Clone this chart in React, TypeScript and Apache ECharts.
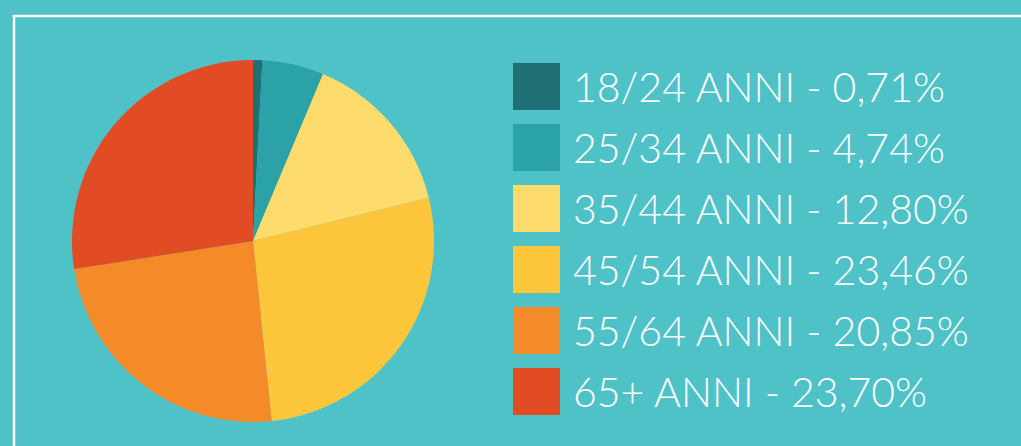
import React, { useEffect, useRef } from "react";
import * as echarts from "echarts";

const categories = ["18/24 ANNI", "25/34 ANNI", "35/44 ANNI", "45/54 ANNI", "55/64 ANNI", "65+ ANNI"];
const values = [0.71, 4.74, 12.8, 23.46, 20.85, 23.7];
const colors = ["#206f75", "#2aa2a7", "#fddb6d", "#fec63a", "#f48a28", "#e14c24"];

const fmt = (v: number) => v.toFixed(2).replace(".", ",") + "%";

export default function App() {
  const ref = useRef<HTMLDivElement>(null);
  useEffect(() => {
    document.body.style.margin = "0";
    const chart = echarts.init(ref.current!, null, { renderer: "svg" });
    const lookup: Record<string, number> = {};
    categories.forEach((c, i) => (lookup[c] = values[i]));
    chart.setOption({
      animation: false,
      backgroundColor: "#4fc2c8",
      color: colors,
      graphic: [
        {
          type: "rect",
          shape: { x: 14, y: 16, width: 1200, height: 600 },
          style: { fill: "none", stroke: "#ffffff", lineWidth: 2.5 },
          silent: true,
        },
      ],
      legend: {
        orient: "vertical",
        left: 508,
        top: 58,
        itemWidth: 47,
        itemHeight: 47,
        itemGap: 14,
        icon: "rect",
        selectedMode: false,
        formatter: (name: string) => name + " - " + fmt(lookup[name]),
        textStyle: {
          color: "#ffffff",
          fontFamily: "Lato",
          fontWeight: 300,
          fontSize: 41,
          padding: [4, 0, 0, 8],
        },
      },
      series: [
        {
          type: "pie",
          center: [253, 241],
          radius: 181,
          startAngle: 90,
          clockwise: true,
          label: { show: false },
          labelLine: { show: false },
          emphasis: { disabled: true },
          itemStyle: { borderWidth: 0 },
          data: categories.map((c, i) => ({ name: c, value: values[i] })),
        },
      ],
    });
    return () => chart.dispose();
  }, []);
  return <div ref={ref} style={{ width: 1021, height: 446 }} />;
}
